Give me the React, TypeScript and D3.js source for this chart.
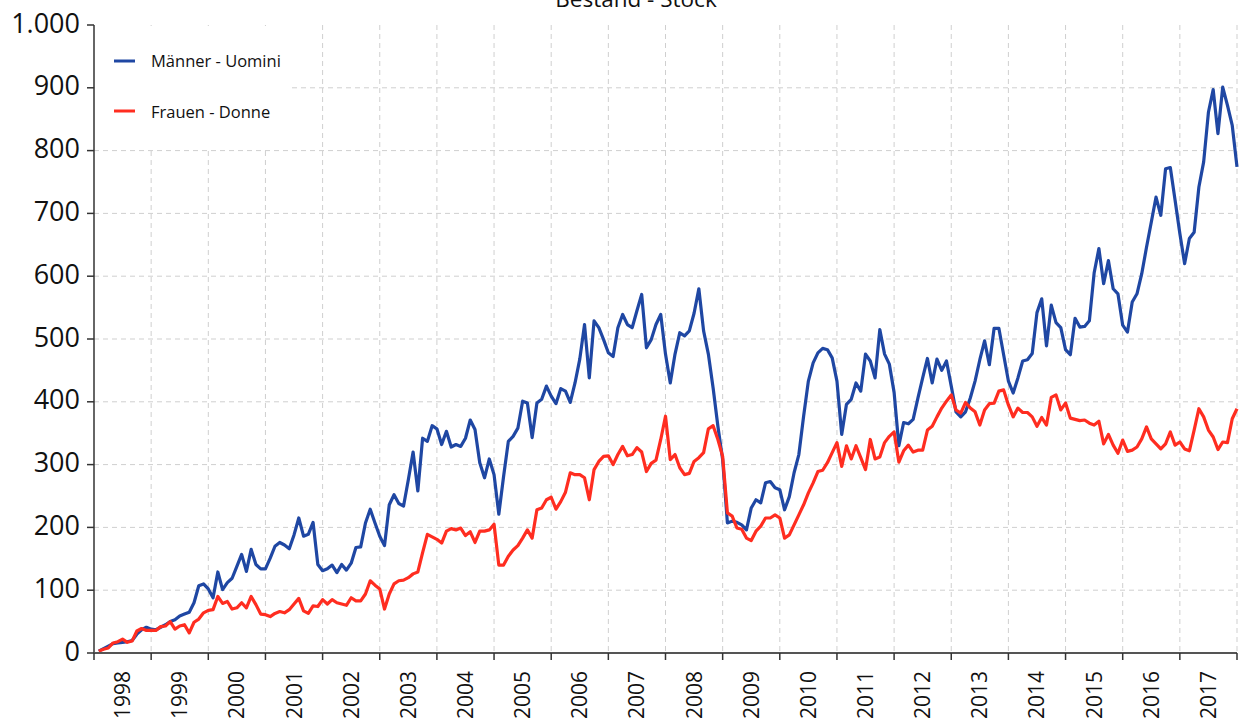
import React from "react";
import * as d3 from "d3";

const years = [
  1998, 1999, 2000, 2001, 2002, 2003, 2004, 2005, 2006, 2007,
  2008, 2009, 2010, 2011, 2012, 2013, 2014, 2015, 2016, 2017,
];

// monthly stock, Jan 1998 – Dec 2017
const men = [
  3, 7, 11, 15, 16, 17, 18, 20, 30, 37, 41, 38,
  37, 41, 45, 50, 53, 59, 62, 65, 80, 107, 110, 102,
  88, 129, 101, 112, 119, 138, 157, 130, 165, 141, 134, 134,
  151, 170, 176, 172, 166, 188, 215, 186, 189, 208, 141, 131,
  134, 140, 128, 141, 132, 143, 168, 169, 207, 229, 207, 186,
  171, 236, 252, 238, 234, 276, 320, 258, 342, 337, 362, 357,
  332, 353, 328, 332, 329, 342, 371, 356, 303, 279, 309, 284,
  221, 281, 337, 345, 358, 401, 398, 343, 398, 404, 425, 409,
  397, 421, 417, 399, 430, 468, 523, 438, 529, 518, 499, 478,
  472, 518, 539, 523, 518, 545, 571, 486, 499, 523, 539, 476,
  430, 476, 510, 505, 513, 541, 580, 513, 476, 422, 361, 308,
  207, 210, 208, 204, 196, 231, 244, 239, 271, 273, 263, 260,
  228, 249, 287, 316, 377, 433, 462, 478, 485, 483, 470, 433,
  348, 396, 404, 430, 417, 476, 465, 438, 515, 476, 460, 415,
  330, 367, 365, 372, 406, 438, 469, 430, 468, 450, 465, 425,
  384, 376, 384, 406, 433, 467, 497, 459, 517, 517, 475, 433,
  414, 438, 465, 467, 477, 542, 564, 489, 554, 526, 518, 483,
  475, 533, 519, 520, 529, 605, 644, 588, 625, 580, 572, 522,
  511, 559, 572, 604, 646, 686, 726, 697, 771, 773, 721, 668,
  620, 660, 670, 742, 782, 861, 897, 827, 901, 872, 840, 774,
];

const women = [
  3, 6, 8, 16, 18, 22, 17, 19, 35, 39, 36, 36,
  36, 42, 43, 50, 38, 43, 45, 32, 49, 54, 64, 68,
  69, 90, 79, 82, 70, 72, 80, 72, 90, 77, 62, 61,
  58, 63, 66, 64, 69, 78, 87, 67, 63, 75, 74, 85,
  78, 85, 80, 78, 76, 88, 83, 83, 94, 115, 108, 102,
  70, 94, 110, 115, 116, 120, 126, 129, 160, 189, 185, 181,
  175, 194, 198, 196, 199, 187, 193, 176, 194, 194, 196, 205,
  140, 140, 154, 164, 171, 183, 196, 183, 228, 231, 244, 248,
  229, 241, 256, 287, 284, 284, 279, 244, 292, 305, 313, 314,
  300, 316, 329, 314, 316, 327, 320, 289, 302, 307, 340, 377,
  308, 316, 295, 284, 286, 305, 311, 319, 357, 362, 340, 313,
  223, 218, 199, 197, 183, 179, 194, 202, 215, 215, 220, 215,
  183, 188, 204, 220, 236, 255, 271, 289, 291, 303, 319, 335,
  297, 330, 309, 330, 311, 292, 340, 309, 312, 335, 345, 352,
  304, 322, 331, 320, 323, 323, 355, 361, 376, 390, 401, 411,
  387, 382, 399, 390, 384, 363, 387, 397, 398, 417, 419, 395,
  376, 390, 383, 383, 376, 361, 375, 363, 407, 411, 387, 398,
  374, 372, 370, 371, 366, 363, 369, 333, 348, 331, 318, 339,
  321, 323, 328, 341, 360, 341, 333, 325, 333, 352, 331, 336,
  325, 322, 355, 389, 376, 355, 344, 324, 336, 335, 373, 389,
];

const yTicks = [0, 100, 200, 300, 400, 500, 600, 700, 800, 900, 1000];

const series = [
  { name: "Männer - Uomini", values: men, color: "#1f47a3" },
  { name: "Frauen - Donne", values: women, color: "#ff2d20" },
];

const W = 1239;
const H = 724;
const left = 94;
const right = 1237;
const top = 25;
const bottom = 653;
const font = "'Open Sans', sans-serif";

export default function App() {
  const x = d3.scaleLinear().domain([0, men.length]).range([left, right]);
  const band = d3.scaleBand<number>().domain(years).range([left, right]);
  const y = d3.scaleLinear().domain([0, 1000]).range([bottom, top]);

  const line = d3
    .line<number>()
    .x((d, i) => x(i + 1))
    .y((d) => y(d));

  const fmt = (v: number) => (v >= 1000 ? "1.000" : String(v));
  const boundaries = years.map((yr) => band(yr)!).concat([right]);

  return (
    <svg
      width={W}
      height={H}
      style={{ position: "absolute", left: 0, top: 0, display: "block" }}
      fontFamily={font}
    >
      <rect width={W} height={H} fill="#fff" />

      {/* grid */}
      {yTicks
        .filter((t) => t > 0 && t < 1000)
        .map((t) => (
          <line key={"h" + t} x1={left} x2={right} y1={y(t)} y2={y(t)}
            stroke="#cfcfcf" strokeWidth={1} strokeDasharray="5,4" />
        ))}
      {boundaries.slice(1).map((bx, i) => (
        <line key={"v" + i} x1={bx} x2={bx} y1={top} y2={bottom}
          stroke="#cfcfcf" strokeWidth={1} strokeDasharray="5,4" />
      ))}

      {/* legend background */}
      <rect x={left + 1} y={top + 1} width={196} height={121} fill="#fff" />

      {/* lines */}
      {series.map((s) => (
        <path key={s.name} d={line(s.values) ?? ""} fill="none"
          stroke={s.color} strokeWidth={3.2} strokeLinejoin="round" />
      ))}

      {/* axes */}
      <line x1={left} x2={left} y1={top} y2={bottom} stroke="#333" strokeWidth={1.5} />
      <line x1={left} x2={right} y1={bottom} y2={bottom} stroke="#555" strokeWidth={2} />
      {yTicks.map((t) => (
        <g key={"yt" + t}>
          <line x1={left - 7} x2={left} y1={y(t)} y2={y(t)} stroke="#333" strokeWidth={1.5} />
          <text x={80} y={y(t)} dy="0.28em" textAnchor="end" fontSize={27} fill="#111">
            {fmt(t)}
          </text>
        </g>
      ))}
      {boundaries.map((bx, i) => (
        <line key={"xt" + i} x1={bx} x2={bx} y1={bottom} y2={bottom + 7}
          stroke="#333" strokeWidth={1.5} />
      ))}
      {years.map((yr) => {
        const cx = band(yr)! + band.bandwidth() / 2;
        return (
          <text key={yr} transform={`translate(${cx + 7.5},671) rotate(-90)`}
            textAnchor="end" fontSize={21} fill="#111">
            {yr}
          </text>
        );
      })}

      {/* title */}
      <text x={636} y={7} textAnchor="middle" fontSize={22.5} fill="#111">
        Bestand - Stock
      </text>

      {/* legend */}
      {series.map((s, i) => (
        <g key={"lg" + i}>
          <line x1={114} x2={135} y1={61 + i * 50} y2={61 + i * 50}
            stroke={s.color} strokeWidth={3} />
          <text x={151} y={67 + i * 51} fontSize={16.5} fill="#111">
            {s.name}
          </text>
        </g>
      ))}
    </svg>
  );
}
